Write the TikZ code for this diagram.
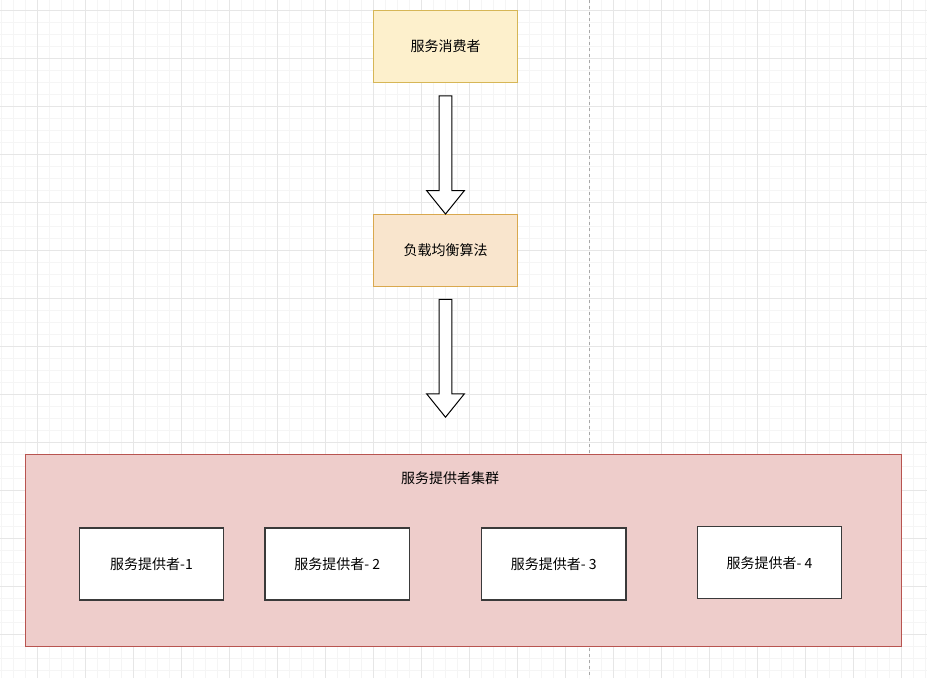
\documentclass[tikz,border=0pt]{standalone}
\usepackage{fontspec}
\setmainfont{Noto Sans CJK SC}
\usepackage{tikz}
\usetikzlibrary{calc,positioning}
\definecolor{gridmajor}{HTML}{E6E6E6}
\definecolor{gridminor}{HTML}{F5F5F5}
\definecolor{guide}{HTML}{A8A8A8}
\definecolor{paleyellow}{HTML}{FDF0CC}
\definecolor{goldline}{HTML}{D6B656}
\definecolor{paleorange}{HTML}{F9E5CD}
\definecolor{orangeline}{HTML}{D9A84E}
\definecolor{palered}{HTML}{EECDCB}
\definecolor{redline}{HTML}{B85450}
\definecolor{boxline}{HTML}{3A3A3A}

% hollow block arrow between two points (drawn downwards)
\newcommand{\flexarrow}[2]{%
  \draw[line width=1pt, fill=white, line join=miter]
    ($(#1)+(-6.3,0)$) -- ($(#2)+(-6.3,-23.3)$) -- ($(#2)+(-18.8,-23.3)$) --
    (#2) -- ($(#2)+(18.8,-23.3)$) -- ($(#2)+(6.3,-23.3)$) --
    ($(#1)+(6.3,0)$) -- cycle;
}

\begin{document}
\begin{tikzpicture}[x=1pt, y=-1pt,
    every node/.style={font=\fontsize{14}{16}\selectfont, inner sep=0pt},
    stagebox/.style={draw, line width=1pt, minimum width=144.4pt, minimum height=72pt},
    providerbox/.style={draw=boxline, line width=1.3pt, fill=white, minimum width=144.4pt, minimum height=72pt}]
    \useasboundingbox (0,0) rectangle (927,678);
    \fill[white] (0,0) rectangle (927,678);

    % Background grid
    \foreach \x in {1,13,...,925} {
        \draw[gridminor, line width=0.8pt] (\x,0) -- (\x,678);
    }
    \foreach \y in {10,22,...,670} {
        \draw[gridminor, line width=0.8pt] (0,\y) -- (927,\y);
    }
    \foreach \x in {37,85,...,925} {
        \draw[gridmajor, line width=0.8pt] (\x,0) -- (\x,678);
    }
    \foreach \y in {10,58,...,670} {
        \draw[gridmajor, line width=0.8pt] (0,\y) -- (927,\y);
    }

    % Page break guide
    \draw[guide, dashed, line width=0.8pt] (589.3,0) -- (589.3,678);

    % Consumer and load balancer
    \node[stagebox, draw=goldline, fill=paleyellow] (consumer) at (445.5,46.3) {服务消费者};
    \node[stagebox, draw=orangeline, fill=paleorange] (balancer) at (445.5,250.5) {负载均衡算法};

    % Provider cluster
    \node[draw=redline, fill=palered, line width=1pt, minimum width=876pt, minimum height=192pt] (cluster) at (463,550.7) {};
    \node (clusterlabel) at (450,478) {服务提供者集群};

    \node[providerbox] (provider1) at (151.5,564) {服务提供者-1};
    \node[providerbox] (provider2) at (337.3,564) {服务提供者- 2};
    \node[providerbox] (provider3) at (553.7,564) {服务提供者- 3};
    \node[providerbox] (provider4) at (769.5,562.7) {服务提供者- 4};

    % Block arrows
    \coordinate (arrowAtop) at ($(consumer.south)+(0,13)$);
    \coordinate (arrowAtip) at (balancer.north);
    \flexarrow{arrowAtop}{arrowAtip}
    \coordinate (arrowBtop) at ($(balancer.south)+(0,12.3)$);
    \coordinate (arrowBtip) at ($(cluster.north)+(-17.5,-37)$);
    \flexarrow{arrowBtop}{arrowBtip}

\end{tikzpicture}
\end{document}
